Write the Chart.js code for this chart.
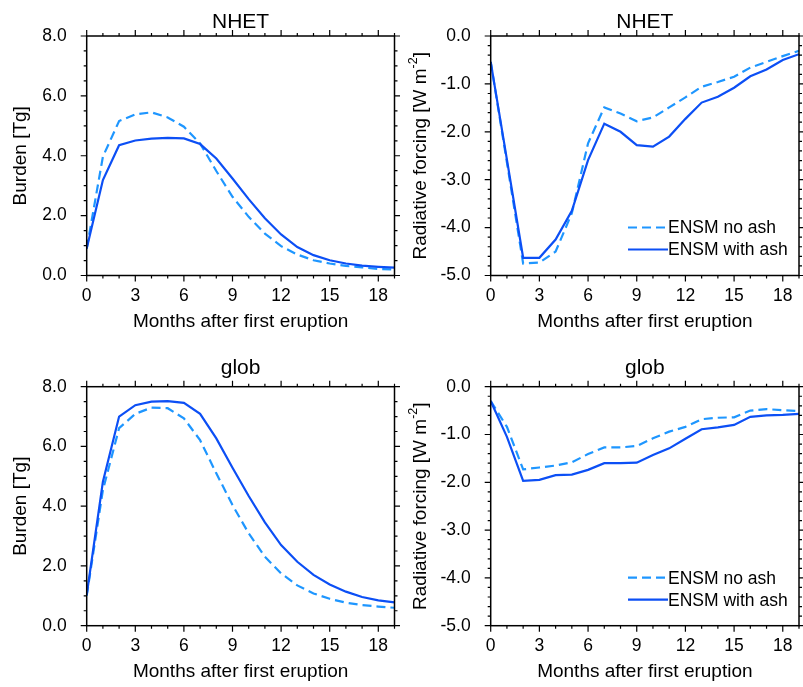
<!DOCTYPE html>
<html>
<head>
<meta charset="utf-8">
<script src="https://cdn.jsdelivr.net/npm/chart.js@4/dist/chart.umd.min.js"></script>
<style>
  html, body { margin: 0; padding: 0; background: #fff; overflow: hidden; }
  #wrap { position: relative; width: 803px; height: 687px; }
  canvas { position: absolute; }
</style>
</head>
<body>
<div id="wrap">
  <canvas id="nhetBurden" width="400" height="340" style="left:0;top:0"></canvas>
  <canvas id="nhetRf" width="403" height="340" style="left:400px;top:0"></canvas>
  <canvas id="globBurden" width="400" height="347" style="left:0;top:340px"></canvas>
  <canvas id="globRf" width="403" height="347" style="left:400px;top:340px"></canvas>
</div>
<script>
// months after first eruption
var months = [0, 1, 2, 3, 4, 5, 6, 7, 8, 9, 10, 11, 12, 13, 14, 15, 16, 17, 18, 19];

// sulfate burden [Tg]
var nhetBurdenNoAsh = [0.90, 3.97, 5.16, 5.38, 5.45, 5.28, 4.97, 4.41, 3.49, 2.63, 1.96, 1.40, 0.98, 0.70, 0.51, 0.40, 0.32, 0.27, 0.22, 0.20];
var nhetBurdenAsh = [0.90, 3.19, 4.35, 4.51, 4.57, 4.60, 4.58, 4.39, 3.91, 3.24, 2.55, 1.91, 1.37, 0.95, 0.68, 0.51, 0.40, 0.33, 0.29, 0.26];
var globBurdenNoAsh = [1.00, 4.54, 6.61, 7.09, 7.30, 7.28, 6.94, 6.21, 5.10, 4.04, 3.09, 2.31, 1.75, 1.35, 1.08, 0.90, 0.77, 0.69, 0.64, 0.60];
var globBurdenAsh = [1.03, 4.82, 7.00, 7.38, 7.50, 7.52, 7.46, 7.09, 6.27, 5.29, 4.34, 3.46, 2.70, 2.14, 1.70, 1.38, 1.14, 0.96, 0.85, 0.78];

// radiative forcing [W m-2]
var nhetRfNoAsh = [-0.54, -2.64, -4.75, -4.73, -4.50, -3.70, -2.24, -1.49, -1.62, -1.78, -1.70, -1.49, -1.28, -1.06, -0.96, -0.85, -0.66, -0.54, -0.42, -0.31];
var nhetRfAsh = [-0.54, -2.58, -4.63, -4.63, -4.25, -3.65, -2.59, -1.83, -2.00, -2.28, -2.31, -2.10, -1.73, -1.39, -1.27, -1.08, -0.84, -0.70, -0.50, -0.38];
var globRfNoAsh = [-0.30, -0.84, -1.73, -1.69, -1.65, -1.58, -1.41, -1.27, -1.27, -1.24, -1.08, -0.94, -0.84, -0.68, -0.65, -0.64, -0.50, -0.47, -0.49, -0.51];
var globRfAsh = [-0.30, -1.05, -1.97, -1.95, -1.85, -1.84, -1.74, -1.60, -1.60, -1.59, -1.43, -1.29, -1.09, -0.89, -0.85, -0.80, -0.63, -0.60, -0.59, -0.57];

var seriesLabels = ['ENSM with ash', 'ENSM no ash'];
var xTitle = 'Months after first eruption';

var FONT = '"Liberation Sans", Arial, Helvetica, sans-serif';
var COL_ASH = '#0c4ff5';
var COL_NOASH = '#1e96ff';

Chart.defaults.font.family = FONT;
Chart.defaults.color = '#000';

function font(size) {
    return size + 'px ' + FONT;
}

// box, outward ticks on all sides, panel title, y title and the legend
var framePlugin = {
    id: 'frame',
    afterDraw: function (chart) {
        var o = chart.options.plugins.frame;
        var ctx = chart.ctx;
        var a = chart.chartArea;
        var xs = chart.scales.x;
        var ys = chart.scales.y;
        var i, v, px, len;
        ctx.save();
        ctx.strokeStyle = '#000';
        ctx.lineWidth = 1.5;
        ctx.strokeRect(a.left, a.top, a.right - a.left, a.bottom - a.top);

        ctx.lineWidth = 1.2;
        ctx.beginPath();
        for (v = xs.min; v <= xs.max; v += 1) {
            len = v % 3 === 0 ? 6 : 3;
            px = xs.getPixelForValue(v);
            ctx.moveTo(px, a.bottom); ctx.lineTo(px, a.bottom + len);
            ctx.moveTo(px, a.top); ctx.lineTo(px, a.top - len);
        }
        var n = Math.round((ys.max - ys.min) / o.yMinor);
        for (i = 0; i <= n; i++) {
            v = ys.min + i * o.yMinor;
            var r = v / o.yMajor;
            len = Math.abs(r - Math.round(r)) < 1e-6 ? 6 : 3;
            px = ys.getPixelForValue(v);
            ctx.moveTo(a.left, px); ctx.lineTo(a.left - len, px);
            ctx.moveTo(a.right, px); ctx.lineTo(a.right + len, px);
        }
        ctx.stroke();

        // panel title
        ctx.fillStyle = '#000';
        ctx.font = font(21);
        ctx.textAlign = 'center';
        ctx.textBaseline = 'alphabetic';
        ctx.fillText(o.title, (a.left + a.right) / 2, a.top - o.titleGap);

        // y axis title, rotated, with optional superscript
        ctx.save();
        ctx.translate(21, (a.top + a.bottom) / 2);
        ctx.rotate(-Math.PI / 2);
        ctx.textBaseline = 'middle';
        ctx.textAlign = 'left';
        ctx.font = font(19);
        var w1 = ctx.measureText(o.yTitle).width;
        var w2 = 0, w3 = 0;
        if (o.ySup) {
            ctx.font = font(12.5);
            w2 = ctx.measureText(o.ySup).width;
            ctx.font = font(19);
            w3 = ctx.measureText(o.yTail).width;
        }
        var x0 = -(w1 + w2 + w3) / 2;
        ctx.fillText(o.yTitle, x0, 0);
        if (o.ySup) {
            ctx.font = font(12.5);
            ctx.fillText(o.ySup, x0 + w1, -7);
            ctx.font = font(19);
            ctx.fillText(o.yTail, x0 + w1 + w2, 0);
        }
        ctx.restore();

        if (o.legend) {
            var rows = [1, 0];
            ctx.font = font(17.5);
            ctx.textAlign = 'left';
            ctx.textBaseline = 'middle';
            rows.forEach(function (di, k) {
                var ds = chart.data.datasets[di];
                var y = a.bottom - 48 + k * 22;
                ctx.save();
                ctx.strokeStyle = ds.borderColor;
                ctx.lineWidth = ds.borderWidth;
                ctx.setLineDash(ds.borderDash || []);
                ctx.beginPath();
                ctx.moveTo(a.right - 171, y);
                ctx.lineTo(a.right - 131, y);
                ctx.stroke();
                ctx.restore();
                ctx.fillText(ds.label, a.right - 131, y + 1);
            });
        }
        ctx.restore();
    }
};

function makePanel(id, cfg) {
    var el = document.getElementById(id);
    var W = el.width, H = el.height;
    var p = cfg.plot;
    var xAxisH = H - p.b;
    new Chart(el, {
        type: 'line',
        data: {
            datasets: [{
                label: seriesLabels[0],
                data: months.map(function (m, i) { return { x: m, y: cfg.ash[i] }; }),
                borderColor: COL_ASH,
                borderWidth: 2.2,
                pointRadius: 0,
                tension: 0
            }, {
                label: seriesLabels[1],
                data: months.map(function (m, i) { return { x: m, y: cfg.noAsh[i] }; }),
                borderColor: COL_NOASH,
                borderWidth: 2.2,
                borderDash: [9, 5],
                pointRadius: 0,
                tension: 0
            }]
        },
        options: {
            responsive: false,
            animation: false,
            events: [],
            layout: { padding: { left: 0, top: p.t, right: W - p.r, bottom: 0 } },
            plugins: {
                legend: { display: false },
                tooltip: { enabled: false },
                frame: {
                    title: cfg.title,
                    titleGap: cfg.titleGap,
                    yTitle: cfg.yTitle,
                    ySup: cfg.ySup,
                    yTail: cfg.yTail,
                    yMinor: cfg.yMinor,
                    yMajor: cfg.yStep,
                    legend: cfg.legend
                }
            },
            scales: {
                x: {
                    type: 'linear',
                    min: 0,
                    max: 19,
                    grid: { display: false, drawTicks: false },
                    border: { display: false },
                    ticks: { stepSize: 3, includeBounds: false, autoSkip: false, maxRotation: 0, padding: 10, font: { size: 17.5 } },
                    title: { display: true, text: xTitle, font: { size: 19 }, padding: { top: 0, bottom: xAxisH - 46.2 - 11.4 } },
                    afterFit: function (s) { s.height = xAxisH; }
                },
                y: {
                    min: cfg.yMin,
                    max: cfg.yMax,
                    grid: { display: false, drawTicks: false },
                    border: { display: false },
                    ticks: {
                        stepSize: cfg.yStep,
                        padding: 20,
                        font: { size: 17.5 },
                        callback: function (v) { return v.toFixed(1); }
                    },
                    afterFit: function (s) { s.width = p.l; }
                }
            }
        },
        plugins: [framePlugin]
    });
}

makePanel('nhetBurden', {
    plot: { l: 86.7, t: 36, r: 394.5, b: 275.5 },
    title: 'NHET', titleGap: 8,
    ash: nhetBurdenAsh, noAsh: nhetBurdenNoAsh,
    yMin: 0, yMax: 8, yStep: 2, yMinor: 0.5,
    yTitle: 'Burden [Tg]', legend: false
});
makePanel('nhetRf', {
    plot: { l: 90.7, t: 36, r: 399, b: 275.5 },
    title: 'NHET', titleGap: 8,
    ash: nhetRfAsh, noAsh: nhetRfNoAsh,
    yMin: -5, yMax: 0, yStep: 1, yMinor: 0.2,
    yTitle: 'Radiative forcing [W m', ySup: '-2', yTail: ']', legend: true
});
makePanel('globBurden', {
    plot: { l: 86.7, t: 46.7, r: 394.5, b: 285.7 },
    title: 'glob', titleGap: 12.4,
    ash: globBurdenAsh, noAsh: globBurdenNoAsh,
    yMin: 0, yMax: 8, yStep: 2, yMinor: 0.5,
    yTitle: 'Burden [Tg]', legend: false
});
makePanel('globRf', {
    plot: { l: 90.7, t: 46.7, r: 399, b: 285.7 },
    title: 'glob', titleGap: 12.4,
    ash: globRfAsh, noAsh: globRfNoAsh,
    yMin: -5, yMax: 0, yStep: 1, yMinor: 0.2,
    yTitle: 'Radiative forcing [W m', ySup: '-2', yTail: ']', legend: true
});
</script>
</body>
</html>
